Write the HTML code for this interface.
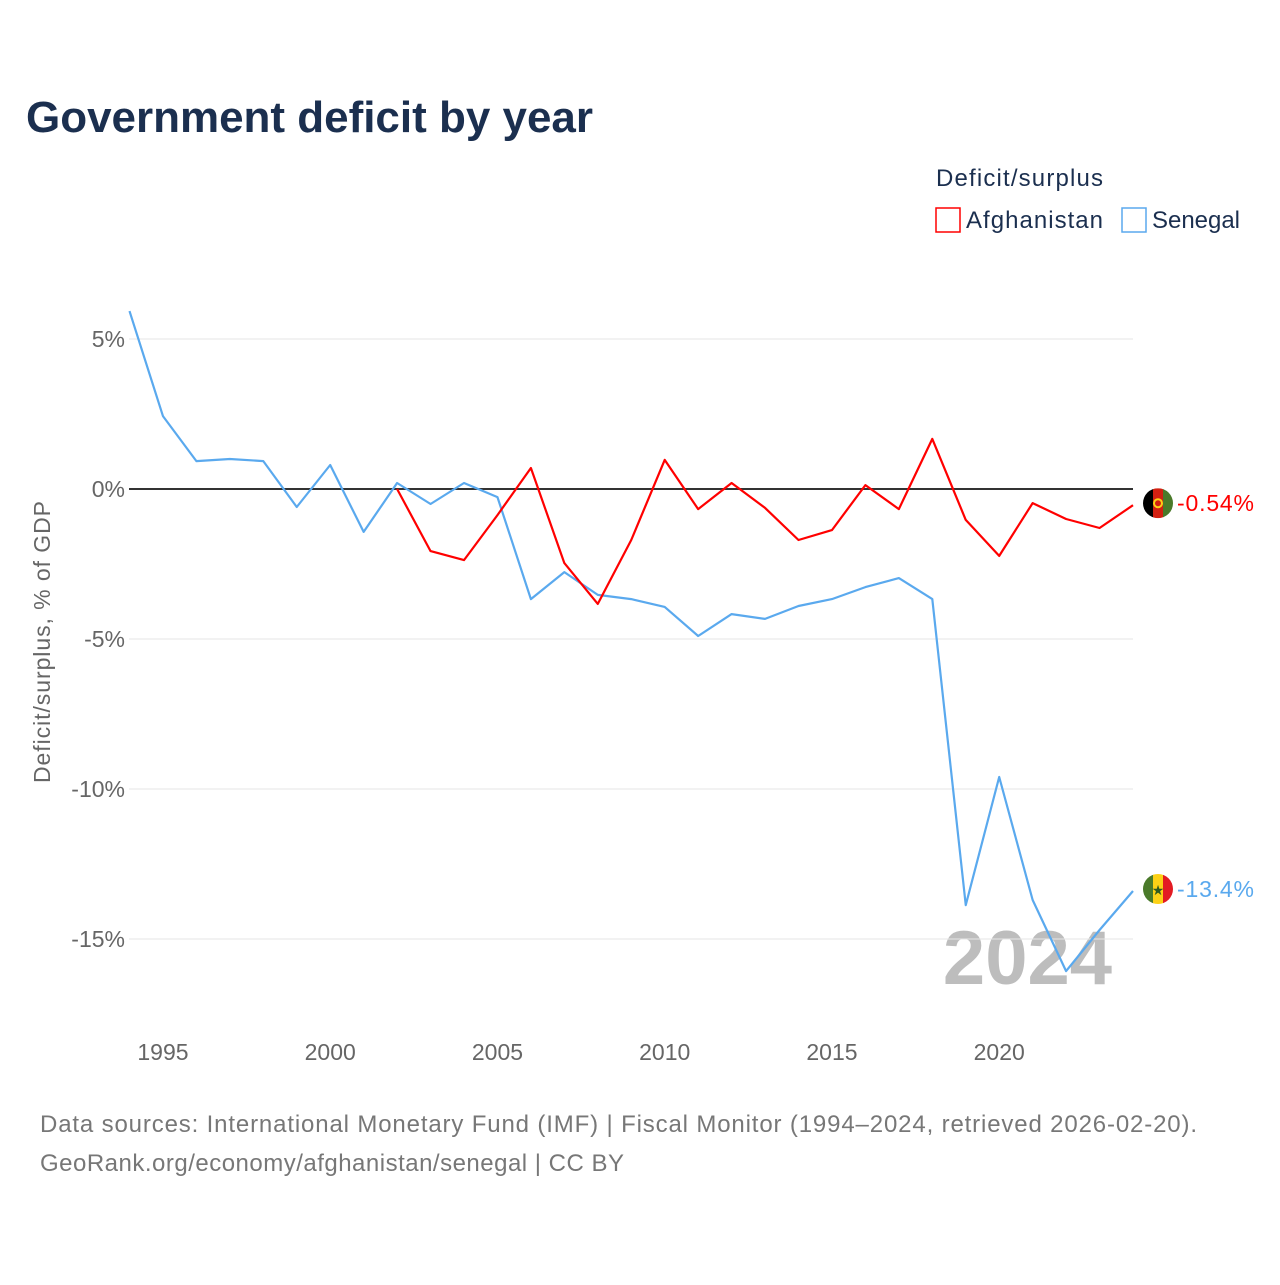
<!DOCTYPE html>
<html><head><meta charset="utf-8"><style>
body{margin:0;background:#fff;width:1280px;height:1280px;overflow:hidden;font-family:"Liberation Sans",sans-serif}
</style></head><body>
<svg id="chart" width="1280" height="1280" xmlns="http://www.w3.org/2000/svg" font-family="Liberation Sans, sans-serif">
<text x="26" y="132" font-size="44" font-weight="bold" fill="#1b2f4f" textLength="567">Government deficit by year</text>
<text x="936" y="186" font-size="24" fill="#1b2f4f" textLength="167">Deficit/surplus</text>
<g><rect x="936" y="208" width="24" height="24" fill="none" stroke="#f00" stroke-width="1.5"/><text x="966" y="228" font-size="24" fill="#1b2f4f" textLength="137">Afghanistan</text></g>
<g><rect x="1122" y="208" width="24" height="24" fill="none" stroke="#5aa9ee" stroke-width="1.5"/><text x="1152" y="228" font-size="24" fill="#1b2f4f" textLength="88">Senegal</text></g>
<text transform="translate(50,642) rotate(-90)" text-anchor="middle" font-size="23" fill="#666" textLength="282">Deficit/surplus, % of GDP</text>
<text x="1112" y="984" text-anchor="end" font-size="76" font-weight="bold" fill="#bdbdbd">2024</text>
<g id="grid"></g><g id="series"></g>
<text x="40" y="1132" font-size="24" fill="#777" textLength="1157">Data sources: International Monetary Fund (IMF) | Fiscal Monitor (1994–2024, retrieved 2026-02-20).</text>
<text x="40" y="1171" font-size="24" fill="#777" textLength="584">GeoRank.org/economy/afghanistan/senegal | CC BY</text>
</svg>
<script>
const yTicks=[5,0,-5,-10,-15];
const xTicks=[1995,2000,2005,2010,2015,2020];
const senYears=[1994,1995,1996,1997,1998,1999,2000,2001,2002,2003,2004,2005,2006,2007,2008,2009,2010,2011,2012,2013,2014,2015,2016,2017,2018,2019,2020,2021,2022,2023,2024];
const senegal=[5.93,2.43,0.93,1.0,0.93,-0.6,0.8,-1.43,0.2,-0.5,0.2,-0.27,-3.67,-2.77,-3.53,-3.67,-3.93,-4.9,-4.17,-4.33,-3.9,-3.67,-3.27,-2.97,-3.67,-13.87,-9.6,-13.7,-16.07,-14.7,-13.4];
const afgYears=[2002,2003,2004,2005,2006,2007,2008,2009,2010,2011,2012,2013,2014,2015,2016,2017,2018,2019,2020,2021,2022,2023,2024];
const afghanistan=[0,-2.07,-2.37,-0.87,0.7,-2.47,-3.83,-1.7,0.97,-0.67,0.2,-0.63,-1.7,-1.37,0.13,-0.67,1.67,-1.03,-2.23,-0.47,-1.0,-1.3,-0.54];
const NS="http://www.w3.org/2000/svg";
const X=yr=>129.5+(yr-1994)*33.45;
const Y=v=>489-v*30;
function mk(t,a,p){const e=document.createElementNS(NS,t);for(const k in a)e.setAttribute(k,a[k]);p.appendChild(e);return e;}
const grid=document.getElementById('grid'),ser=document.getElementById('series');
yTicks.forEach(v=>{
 const l=mk('line',{x1:129,x2:1133,y1:Y(v),y2:Y(v),stroke:v===0?'#333':'#e6e6e6','stroke-width':v===0?2:1},grid);
 
 
 const t=mk('text',{x:125,y:Y(v)+8,'text-anchor':'end','font-size':23,fill:'#666'},grid);
 t.textContent=v+'%';
 
 
});
xTicks.forEach(yr=>{
 const t=mk('text',{x:X(yr),y:1060,'text-anchor':'middle','font-size':23,fill:'#666'},grid);
 t.textContent=yr;
 
 
});
function line(years,vals,color,name){
 const p=mk('polyline',{points:years.map((y,i)=>X(y)+','+Y(vals[i])).join(' '),fill:'none',stroke:color,'stroke-width':2.2,'stroke-linejoin':'round'},ser);
 
 
}
line(senYears,senegal,'#5aa9ee','senegal-line');
line(afgYears,afghanistan,'#f00','afghanistan-line');
function flag(v,colors,name,color,label,emb,tl){
 const cy=Y(v)-2,cx=1158;
 const g=mk('g',{},ser);
 
 
 const cp=mk('clipPath',{id:'c'+name},g);mk('circle',{cx:cx,cy:cy,r:15},cp);
 const gg=mk('g',{'clip-path':'url(#c'+name+')'},g);
 colors.forEach((c,i)=>mk('rect',{x:cx-15+i*10,y:cy-15,width:10.5,height:30,fill:c},gg));
 if(emb==='afg'){mk('circle',{cx:cx,cy:cy,r:4,fill:'none',stroke:'#fcd116','stroke-width':2},g);}
 else {const t=mk('text',{x:cx,y:cy+6,'text-anchor':'middle','font-size':14,fill:'#2f5a1f'},g);t.textContent='★';}
 const t=mk('text',{x:1177,y:cy+8,'font-size':23,fill:color,textLength:tl},g);t.textContent=label;
}
flag(afghanistan[afghanistan.length-1],['#000','#d32011','#4a7a2a'],'afghanistan-end-label','#f00','-0.54%','afg',77);
flag(senegal[senegal.length-1],['#4a7a2a','#fcd116','#e31b23'],'senegal-end-label','#5aa9ee','-13.4%','sen',77);
</script>
</body></html>
